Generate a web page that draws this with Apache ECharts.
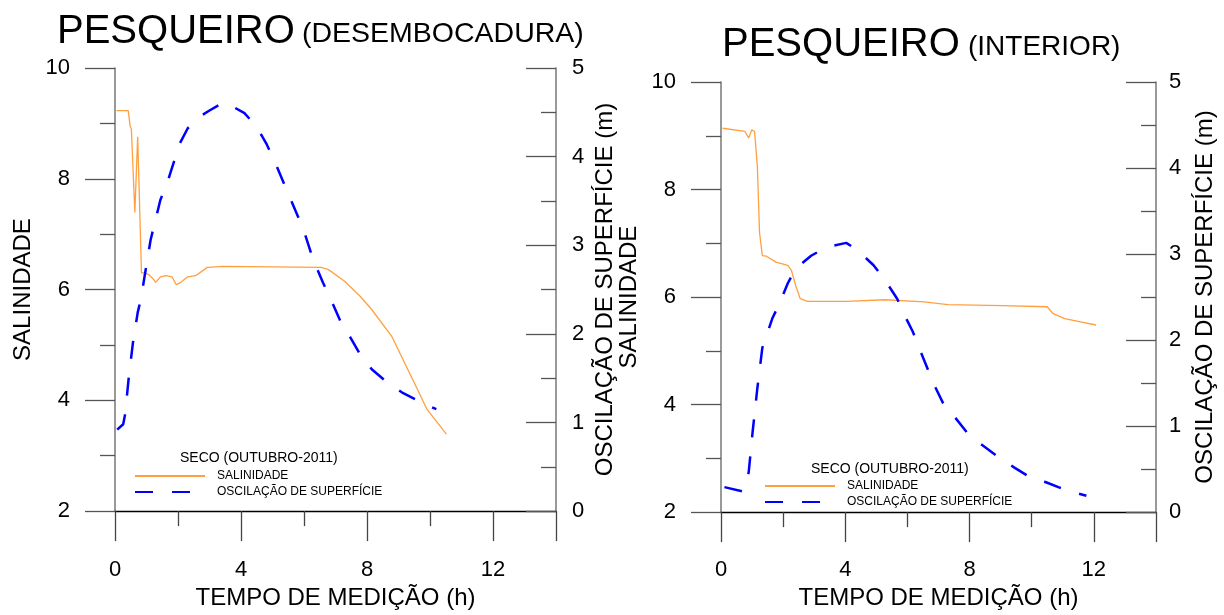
<!DOCTYPE html>
<html>
<head>
<meta charset="utf-8">
<script src="https://cdn.jsdelivr.net/npm/echarts@6/dist/echarts.min.js"></script>
<style>
  html, body { margin: 0; padding: 0; background: #fff; }
  #chart { width: 1224px; height: 615px; }
</style>
</head>
<body>
<div id="chart"></div>
<script>
// Pesqueiro (desembocadura)
var desSalT = [0.05, 0.42, 0.48, 0.52, 0.63, 0.72, 0.84, 0.94, 1.07, 1.2, 1.29, 1.44, 1.62, 1.81, 1.94, 2.06, 2.31, 2.56, 2.93, 3.43, 5.05, 6.54, 6.78, 7.29, 7.78, 8.15, 8.78, 9.65, 9.9, 10.52];
var desSalV = [9.23, 9.23, 8.95, 8.9, 7.39, 8.76, 6.3, 6.3, 6.27, 6.2, 6.13, 6.23, 6.25, 6.23, 6.09, 6.12, 6.23, 6.25, 6.4, 6.42, 6.41, 6.4, 6.36, 6.15, 5.88, 5.64, 5.16, 4.14, 3.84, 3.39];
var desOscT = [0.07, 0.26, 0.32, 0.44, 0.57, 0.72, 0.82, 0.94, 1.13, 1.44, 1.69, 2.06, 2.31, 2.68, 3.0, 3.24, 3.37, 3.5, 3.61, 4.11, 4.49, 4.8, 5.05, 5.54, 5.98, 6.29, 6.6, 6.85, 7.16, 7.47, 7.78, 8.15, 8.65, 9.15, 9.77, 10.2];
var desOscV = [0.92, 0.98, 1.09, 1.52, 1.9, 2.24, 2.39, 2.65, 3.06, 3.51, 3.74, 4.15, 4.32, 4.45, 4.52, 4.57, 4.6, 4.58, 4.59, 4.49, 4.34, 4.15, 3.96, 3.55, 3.18, 2.84, 2.58, 2.39, 2.14, 1.96, 1.77, 1.6, 1.45, 1.33, 1.22, 1.15];

// Pesqueiro (interior)
var intSalT = [0.05, 0.77, 0.89, 0.99, 1.08, 1.17, 1.24, 1.33, 1.46, 1.77, 2.15, 2.27, 2.4, 2.55, 2.78, 4.03, 5.29, 6.54, 7.3, 9.05, 10.5, 10.69, 11.06, 11.57, 12.07];
var intSalV = [9.14, 9.08, 8.96, 9.11, 9.08, 8.43, 7.2, 6.77, 6.76, 6.65, 6.59, 6.49, 6.22, 5.97, 5.92, 5.92, 5.95, 5.91, 5.86, 5.84, 5.82, 5.69, 5.6, 5.54, 5.48];
var intOscT = [0.11, 0.7, 0.89, 1.02, 1.17, 1.33, 1.65, 1.9, 2.15, 2.4, 2.9, 3.4, 4.03, 4.41, 4.91, 5.29, 5.67, 5.85, 6.17, 6.42, 6.86, 7.17, 7.49, 7.93, 8.37, 8.93, 9.43, 10.06, 10.44, 11.06, 11.76];
var intOscV = [0.29, 0.24, 0.46, 0.94, 1.44, 1.91, 2.25, 2.44, 2.66, 2.83, 2.98, 3.08, 3.13, 3.04, 2.87, 2.69, 2.48, 2.33, 2.1, 1.87, 1.48, 1.25, 1.12, 0.92, 0.79, 0.64, 0.52, 0.38, 0.35, 0.26, 0.19];

var xMajor = [0, 4, 8, 12];

function pairs(t, v) {
    var out = [];
    for (var i = 0; i < t.length; i++) {
        out.push([t[i], v[i]]);
    }
    return out;
}

var FONT = 'Liberation Sans, Arial, sans-serif';
var ORANGE = '#ffa040';
var BLUE = '#0000ff';

// long ticks every 4 h, short minor ticks in between
function mainX(grid, margin, gap) {
    return {
        type: 'value', gridIndex: grid, position: 'bottom', min: 0, max: 14, interval: 4,
        name: 'TEMPO DE MEDIÇÃO (h)', nameLocation: 'middle', nameGap: gap,
        nameTextStyle: { fontSize: 24, color: '#000', fontFamily: FONT },
        axisLine: { show: true, onZero: false, lineStyle: { color: '#000', width: 1.3 } },
        axisTick: { show: true, length: 30, lineStyle: { color: '#444', width: 1.3 } },
        minorTick: { show: true, splitNumber: 2, length: 15, lineStyle: { color: '#444', width: 1.3 } },
        axisLabel: {
            margin: margin, fontSize: 22, color: '#000', fontFamily: FONT, showMaxLabel: false,
            formatter: function (v) { return xMajor.indexOf(v) >= 0 ? String(v) : ''; }
        },
        splitLine: { show: false }
    };
}
function salY(grid, gap) {
    return {
        type: 'value', gridIndex: grid, position: 'left', min: 2, max: 10, interval: 2,
        name: 'SALINIDADE', nameLocation: 'middle', nameGap: gap, nameRotate: 90,
        nameTextStyle: { fontSize: 24, color: '#000', fontFamily: FONT },
        axisLine: { show: true, onZero: false, lineStyle: { color: '#777', width: 1.5 } },
        axisTick: { show: true, length: 30, lineStyle: { color: '#555', width: 1.3 } },
        minorTick: { show: true, splitNumber: 2, length: 15, lineStyle: { color: '#555', width: 1.3 } },
        axisLabel: { margin: 45, fontSize: 22, color: '#000', fontFamily: FONT },
        splitLine: { show: false }
    };
}
function oscY(grid, margin, gap) {
    return {
        type: 'value', gridIndex: grid, position: 'right', min: 0, max: 5, interval: 1,
        name: 'OSCILAÇÃO DE SUPERFÍCIE (m)', nameLocation: 'middle', nameGap: gap, nameRotate: 90,
        nameTextStyle: { fontSize: 24, color: '#000', fontFamily: FONT },
        axisLine: { show: true, onZero: false, lineStyle: { color: '#777', width: 1.5 } },
        axisTick: { show: true, inside: true, length: 30, lineStyle: { color: '#555', width: 1.3 } },
        minorTick: { show: true, splitNumber: 2, length: 15, lineStyle: { color: '#555', width: 1.3 } },
        axisLabel: { margin: margin, fontSize: 22, color: '#000', fontFamily: FONT },
        splitLine: { show: false }
    };
}
function salSeries(name, xi, yi, data) {
    return {
        name: name, type: 'line', xAxisIndex: xi, yAxisIndex: yi, data: data,
        symbol: 'none', smooth: false, animation: false,
        lineStyle: { color: ORANGE, width: 1.3 }, itemStyle: { color: ORANGE }
    };
}
function oscSeries(name, xi, yi, data) {
    return {
        name: name, type: 'line', xAxisIndex: xi, yAxisIndex: yi, data: data,
        symbol: 'none', smooth: false, animation: false,
        lineStyle: { color: BLUE, width: 2.5, type: [18, 19] }, itemStyle: { color: BLUE }
    };
}
function legendAt(left, top) {
    return {
        orient: 'vertical', left: left, top: top, padding: 0,
        itemWidth: 70, itemHeight: 14, itemGap: 4,
        data: ['SALINIDADE', 'OSCILAÇÃO DE SUPERFÍCIE'],
        itemStyle: { color: 'rgba(0,0,0,0)', borderWidth: 0, opacity: 0 },
        textStyle: { fontSize: 12, color: '#000', fontFamily: FONT, padding: [0, 0, 0, 7] },
        selectedMode: false
    };
}

var chart = echarts.init(document.getElementById('chart'));
var option = {
    backgroundColor: '#fff',
    animation: false,
    title: [
        { text: 'PESQUEIRO', left: 57, top: 12, padding: 0, textStyle: { fontSize: 40, fontWeight: 'normal', color: '#000', fontFamily: FONT } },
        { text: '(DESEMBOCADURA)', left: 302, top: 20, padding: 0, textStyle: { fontSize: 28.5, fontWeight: 'normal', color: '#000', fontFamily: FONT } },
        { text: 'PESQUEIRO', left: 722, top: 25, padding: 0, textStyle: { fontSize: 40, fontWeight: 'normal', color: '#000', fontFamily: FONT } },
        { text: '(INTERIOR)', left: 968, top: 33, padding: 0, textStyle: { fontSize: 28, fontWeight: 'normal', color: '#000', fontFamily: FONT } },
        { text: 'SECO (OUTUBRO-2011)', left: 180, top: 451, padding: 0, textStyle: { fontSize: 14, fontWeight: 'normal', color: '#000', fontFamily: FONT } },
        { text: 'SECO (OUTUBRO-2011)', left: 811, top: 462, padding: 0, textStyle: { fontSize: 14, fontWeight: 'normal', color: '#000', fontFamily: FONT } }
    ],
    legend: [legendAt(134, 470), legendAt(764, 480)],
    grid: [
        { left: 115, top: 68, width: 441, height: 444 },
        { left: 721, top: 82, width: 435, height: 433 }
    ],
    xAxis: [mainX(0, 48, 74), mainX(1, 47, 73)],
    yAxis: [salY(0, 80), oscY(0, 16, 37), salY(1, 80), oscY(1, 13, 37)],
    series: [
        salSeries('SALINIDADE', 0, 0, pairs(desSalT, desSalV)),
        oscSeries('OSCILAÇÃO DE SUPERFÍCIE', 0, 1, pairs(desOscT, desOscV)),
        salSeries('SALINIDADE', 1, 2, pairs(intSalT, intSalV)),
        oscSeries('OSCILAÇÃO DE SUPERFÍCIE', 1, 3, pairs(intOscT, intOscV))
    ]
};
chart.setOption(option);
</script>
</body>
</html>
